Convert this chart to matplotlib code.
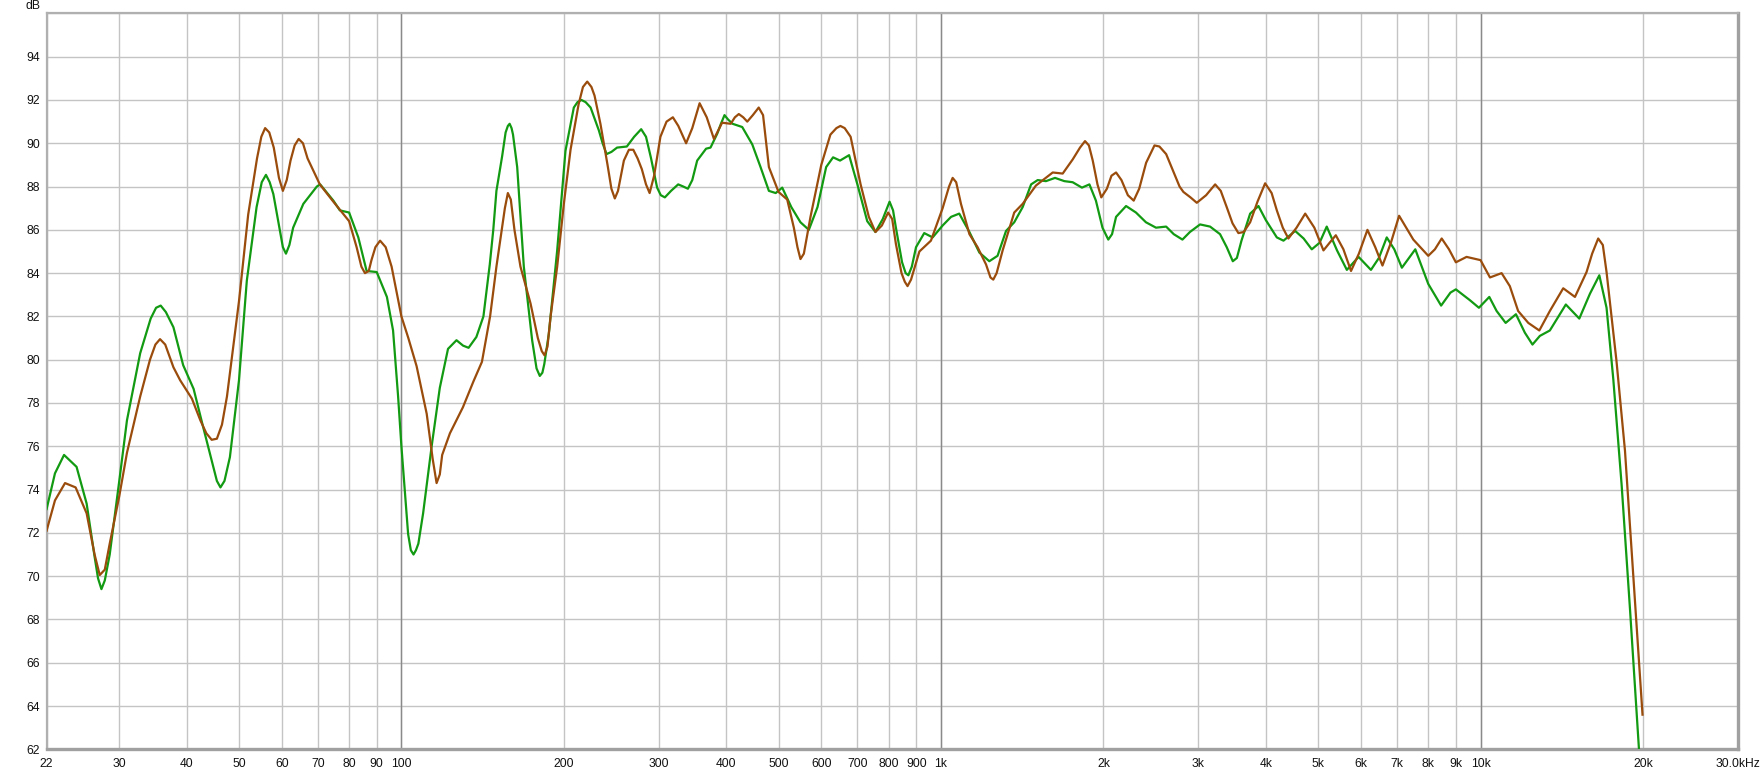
import matplotlib
matplotlib.use('Agg')
from matplotlib import pyplot as plt

# Brown trace
brown_freq = [22, 22.8, 23.8, 24.9, 26.1, 27.0, 27.6, 28.2, 28.8, 30, 31, 32.8, 34.2, 35.0, 35.7, 36.5, 37.8, 38.9,
              40.9, 42.4, 43.5, 44.5, 45.5, 46.5, 47.5, 50, 52, 54, 55.0, 55.9, 56.9, 58, 59.3, 60.3, 61.3,
              62.3, 63.4, 64.5, 65.7, 67, 70.6, 74.8, 80, 82.6, 84.3, 85.6, 87, 88, 89.5, 91.3, 93.5, 95.9,
              100, 103, 106.7, 111.4, 114.3, 116.2, 117.8, 119, 123, 130, 136, 141, 146, 150, 153, 155.5,
              157.5, 159.5, 162, 166.2, 173.5, 179, 182, 184.2, 186.5, 189, 194.4, 200, 205.8, 213, 217,
              221, 225, 228, 233.8, 241, 245, 248.6, 252, 258.4, 264, 269, 274, 279, 284, 288.4, 294, 302,
              310, 318.5, 326, 337, 346, 357, 368, 379.5, 393, 407.7, 415, 422, 430, 437.5, 448, 459.4,
              468, 479.8, 500, 518.8, 533.7, 542, 549, 557, 573, 600, 623.8, 640, 651, 663, 680, 709.6,
              735, 756, 777, 798, 812, 825, 845, 857, 867, 880, 912, 958, 1007, 1035, 1051, 1067, 1089,
              1129, 1169, 1212, 1235, 1250, 1268, 1301, 1367, 1417, 1500, 1611, 1681, 1754, 1810, 1849,
              1880, 1911, 1950, 1982, 2030, 2070, 2111, 2160, 2220, 2276, 2330, 2400, 2487, 2540, 2614,
              2768, 2814, 2900, 2979, 3100, 3222, 3300, 3385, 3470, 3558, 3640, 3741, 3860, 3988, 4100,
              4192, 4300, 4404, 4560, 4732, 4920, 5115, 5250, 5392, 5570, 5753, 5950, 6171, 6380, 6580,
              6820, 7064, 7505, 8000, 8230, 8472, 8740, 9000, 9420, 10000, 10410, 10940, 11330, 11740,
              12260, 12850, 13440, 14230, 14960, 15720, 16100, 16520, 16850, 17120, 17860, 18520, 19180,
              19960]
brown_db = [72.1, 73.5, 74.3, 74.1, 72.9, 71.0, 70.05, 70.3, 71.5, 73.7, 75.7, 78.3, 80.0, 80.7, 80.95, 80.7, 79.65, 79.05,
            78.2, 77.2, 76.6, 76.3, 76.35, 77.0, 78.3, 82.7, 86.7, 89.3, 90.3, 90.7, 90.5, 89.8, 88.4, 87.8, 88.3,
            89.2, 89.9, 90.2, 90.0, 89.3, 88.1, 87.3, 86.4, 85.2, 84.3, 84.0, 84.1, 84.6, 85.2, 85.5, 85.2, 84.3,
            82.0, 81.0, 79.7, 77.5, 75.4, 74.3, 74.7, 75.6, 76.6, 77.8, 79.0, 79.9, 82.0, 84.3, 85.8, 87.0,
            87.7, 87.4, 86.0, 84.3, 82.6, 81.0, 80.4, 80.2, 80.6, 82.0, 84.3, 87.2, 89.7, 91.8, 92.6,
            92.85, 92.6, 92.2, 90.9, 89.0, 87.9, 87.45, 87.8, 89.2, 89.7, 89.7, 89.3, 88.8, 88.1, 87.7, 88.5, 90.3,
            91.0, 91.2, 90.8, 90.0, 90.7, 91.85, 91.2, 90.2, 90.95, 90.9, 91.2, 91.35, 91.2, 91.0, 91.3, 91.65,
            91.3, 88.9, 87.75, 87.4, 86.1, 85.2, 84.65, 84.9, 86.6, 89.0, 90.4, 90.7, 90.8, 90.7, 90.3, 88.1,
            86.6, 85.9, 86.2, 86.8, 86.5, 85.35, 84.0, 83.6, 83.4, 83.7, 85.0, 85.5, 87.0, 88.0, 88.4, 88.2, 87.2,
            85.8, 85.2, 84.4, 83.8, 83.7, 84.0, 85.05, 86.8, 87.2, 88.05, 88.65, 88.6, 89.25, 89.8, 90.1,
            89.9, 89.2, 88.1, 87.5, 87.9, 88.5, 88.65, 88.3, 87.6, 87.35, 87.9, 89.1, 89.9, 89.85, 89.5,
            88.0, 87.75, 87.5, 87.25, 87.6, 88.1, 87.8, 87.05, 86.3, 85.85, 85.9, 86.35, 87.3, 88.15, 87.7,
            86.9, 86.1, 85.6, 86.1, 86.75, 86.1, 85.05, 85.4, 85.75, 85.1, 84.1, 84.9, 86.0, 85.2, 84.35,
            85.4, 86.65, 85.55, 84.8, 85.1, 85.6, 85.1, 84.5, 84.75, 84.6, 83.8, 84.0, 83.4, 82.25,
            81.7, 81.35, 82.25, 83.3, 82.9, 84.05, 84.9, 85.6, 85.3, 84.05, 79.95, 75.8, 70.1,
            63.6]

# Green trace
green_freq = [22, 22.8, 23.7, 25.0, 26.1, 27.0, 27.4, 27.8, 28.2, 28.8, 30, 31, 32.8, 34.3, 35.1, 35.8, 36.6, 37.8,
              39.4, 41.2, 42.9, 44.8, 45.5, 46.2, 47.0, 48.1, 50, 51.7, 53.9, 55.1, 56.1, 57.0, 57.9, 59.5,
              60.3, 61.1, 62.0, 63.0, 65.8, 69.7, 70.7, 74.8, 76.9, 80, 83.2, 86.2, 90, 94, 96.5, 98.6, 100,
              102.9, 104.1, 105.3, 106.4, 107.5, 109.7, 113.7, 117.8, 122, 126.5, 130.1, 133.2, 137.7,
              141.9, 145.8, 148, 150, 153.7, 156, 157.5, 158.7, 160, 161, 163.9, 168.6, 174.7, 178, 180.5,
              182.5, 184, 187.6, 194.4, 201.4, 208.7, 212, 215.6, 219.5, 224.2, 232.2, 236, 240, 245, 251,
              261.7, 270, 278.2, 284, 289.9, 297.8, 302.5, 307.8, 316, 325.8, 333, 339.6, 346, 353.3, 367,
              374, 385, 391, 397, 403, 410.9, 428.2, 446.9, 463, 479.8, 494, 507.9, 528, 549, 569, 590.4,
              612.6, 631, 650, 675.6, 700, 730, 756, 780, 803, 815, 825, 847, 860, 870, 883, 899, 931,
              965, 1007, 1044, 1081, 1129, 1178, 1229, 1273, 1320, 1367, 1417, 1469, 1511, 1565, 1627,
              1693, 1754, 1825, 1884, 1937, 1992, 2042, 2075, 2111, 2203, 2298, 2398, 2503, 2614, 2700,
              2802, 2893, 3021, 3153, 3290, 3385, 3474, 3535, 3605, 3741, 3876, 4000, 4192, 4313, 4533,
              4700, 4866, 5030, 5187, 5420, 5652, 5942, 6264, 6480, 6701, 6920, 7148, 7569, 8000, 8451,
              8794, 9000, 9555, 9930, 10380, 10710, 11130, 11630, 12080, 12480, 12880, 13440, 14390,
              15240, 15950, 16600, 17120, 17620, 18260, 18930, 19660, 19750]
green_db = [73.1, 74.75, 75.6, 75.05, 73.35, 70.9, 69.9, 69.4, 69.8, 71.0, 74.4, 77.2, 80.3, 81.9, 82.4, 82.5, 82.2, 81.5,
            79.75, 78.65, 76.9, 75.05, 74.4, 74.1, 74.4, 75.5, 79.05, 83.65, 87.05, 88.2, 88.54, 88.2, 87.65, 86.0,
            85.2, 84.9, 85.3, 86.1, 87.2, 88.0, 88.1, 87.35, 86.9, 86.8, 85.65, 84.1, 84.05, 82.9, 81.35, 78.3, 76.0,
            71.95, 71.2, 71.0, 71.2, 71.5, 72.9, 75.95, 78.7, 80.5, 80.9, 80.65, 80.55, 81.05,
            82.0, 84.4, 86.0, 87.8, 89.4, 90.5, 90.8, 90.9, 90.7, 90.4, 88.9, 84.3, 80.9, 79.6, 79.25,
            79.4, 79.8, 81.2, 85.05, 89.65, 91.65, 91.9, 92.0, 91.9, 91.65, 90.6, 90.0, 89.5, 89.6, 89.8,
            89.85, 90.3, 90.65, 90.3, 89.35, 87.95, 87.6, 87.5, 87.8, 88.1, 88.0, 87.9, 88.3, 89.2, 89.75,
            89.8, 90.45, 90.9, 91.3, 91.1, 90.9, 90.75, 89.95, 88.9, 87.8, 87.7, 87.95, 87.05, 86.35, 86.0, 87.05,
            88.9, 89.35, 89.2, 89.45, 88.1, 86.4, 85.9, 86.5, 87.3, 86.9, 86.1, 84.5, 84.0, 83.9, 84.3, 85.2, 85.85,
            85.65, 86.2, 86.6, 86.75, 85.9, 84.95, 84.55, 84.8, 85.95, 86.35, 87.05, 88.1, 88.3, 88.25, 88.4,
            88.25, 88.2, 87.95, 88.1, 87.35, 86.1, 85.55, 85.8, 86.6, 87.1, 86.8, 86.35, 86.1, 86.15, 85.8,
            85.55, 85.9, 86.25, 86.15, 85.8, 85.2, 84.55, 84.7, 85.5, 86.75, 87.1, 86.45, 85.65, 85.5, 85.95,
            85.6, 85.1, 85.4, 86.15, 85.05, 84.15, 84.75, 84.15, 84.7, 85.65, 85.1, 84.25, 85.1, 83.5, 82.5,
            83.1, 83.25, 82.75, 82.4, 82.9, 82.25, 81.7, 82.1, 81.25, 80.7, 81.1, 81.35, 82.55,
            81.9, 83.05, 83.9, 82.4, 79.1, 74.2, 68.4, 62.0, 61.0]

x_ticks = [22, 30, 40, 50, 60, 70, 80, 90, 100, 200, 300, 400, 500, 600, 700, 800, 900,
           1000, 2000, 3000, 4000, 5000, 6000, 7000, 8000, 9000, 10000, 20000, 30000]
x_labels = ['22', '30', '40', '50', '60', '70', '80', '90', '100', '200', '300', '400', '500', '600',
            '700', '800', '900', '1k', '2k', '3k', '4k', '5k', '6k', '7k', '8k', '9k', '10k', '20k', '30.0kHz']
y_ticks = list(range(62, 97, 2))
y_labels = [str(v) for v in range(62, 95, 2)] + ['']

plt.rcParams['font.family'] = ['Liberation Sans', 'DejaVu Sans']

fig = plt.figure(figsize=(17.61, 7.72), dpi=100)
ax = fig.add_axes([46.6 / 1761, 1 - 749.3 / 772, (1738 - 46.6) / 1761, (749.3 - 13.4) / 772])

ax.set_xscale('log')
ax.set_xlim(22, 30000)
ax.set_ylim(62, 96)

ax.set_xticks(x_ticks, x_labels)
ax.xaxis.set_minor_locator(matplotlib.ticker.NullLocator())
ax.set_yticks(y_ticks, y_labels)
ax.tick_params(length=0, labelsize=8.7, colors='#111111', pad=5)
ax.tick_params(axis='x', pad=6)

ax.grid(True, color='#c4c4c4', lw=1.0)
for f in [100, 1000, 10000]:
    ax.axvline(f, color='#8a8a8a', lw=1.0, zorder=1.5)
ax.set_axisbelow(True)

ax.plot(green_freq, green_db, color='#129a12', lw=1.6, zorder=3)
ax.plot(brown_freq, brown_db, color='#9a4c0c', lw=1.6, zorder=4)

for side in ['left', 'top']:
    ax.spines[side].set_color('#b0b0b0')
    ax.spines[side].set_linewidth(1.6)
for side in ['right', 'bottom']:
    ax.spines[side].set_color('#a0a0a0')
    ax.spines[side].set_linewidth(2.4)

fig.text(41 / 1761, 1 - 6 / 772, 'dB', ha='right', va='center', fontsize=8.7, color='#111111')

fig.savefig('out.png', dpi=100)
